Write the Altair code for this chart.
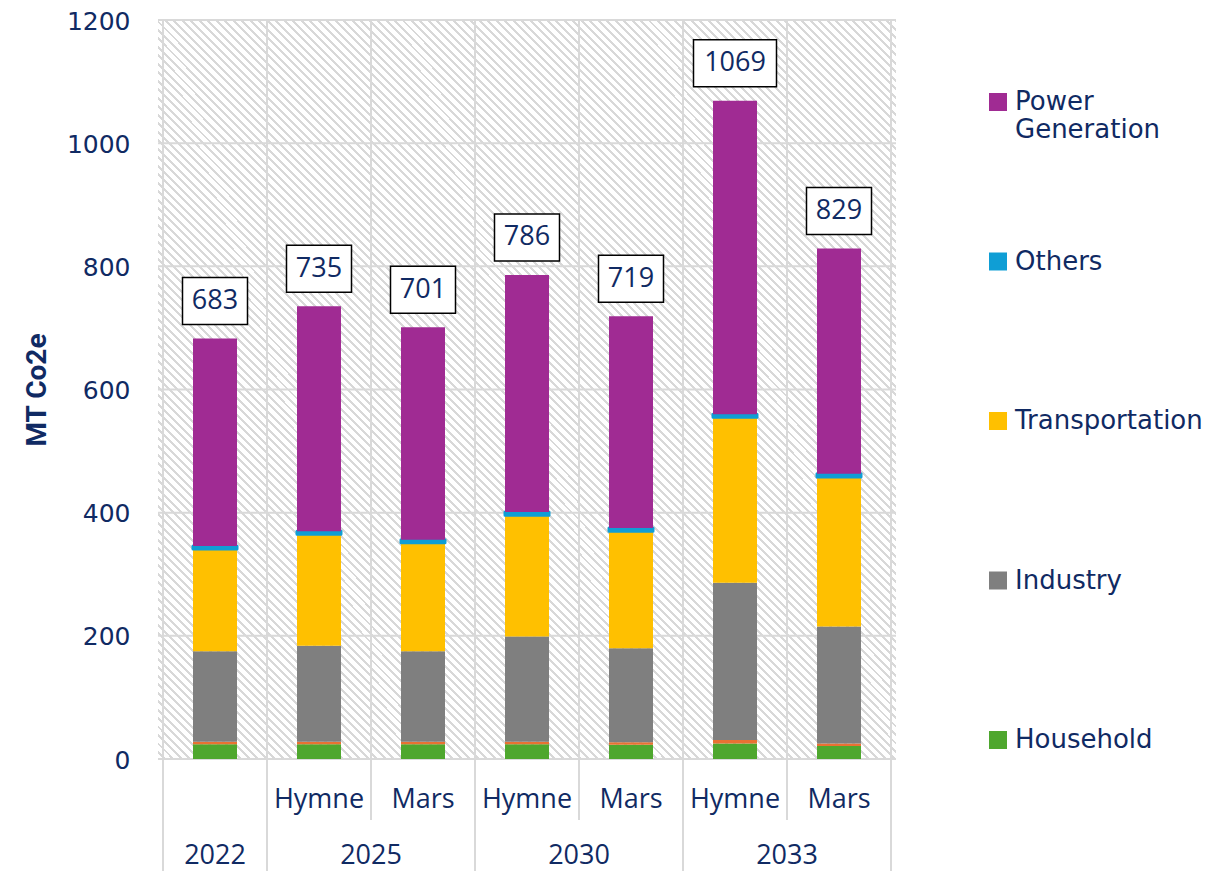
import altair as alt
import pandas as pd

# ---------------- data ----------------
categories = ["2022", "2025 Hymne", "2025 Mars", "2030 Hymne", "2030 Mars", "2033 Hymne", "2033 Mars"]
scenario_labels = ["", "Hymne", "Mars", "Hymne", "Mars", "Hymne", "Mars"]
years = ["2022", "2025", "2030", "2033"]
year_first_bar = [0, 1, 3, 5]
year_bar_count = [1, 2, 2, 2]

household = [24, 24, 24, 24, 23, 25, 21]
waste = [4, 4, 4, 4, 4, 6, 4]
industry = [147, 156, 147, 171, 153, 255, 190]
transportation = [166, 181, 176, 197, 190, 269, 243]
others = [5, 5, 5, 5, 5, 5, 5]
power = [337, 365, 345, 385, 344, 509, 366]
totals = [683, 735, 701, 786, 719, 1069, 829]

y_ticks = [0, 200, 400, 600, 800, 1000, 1200]

series_names = ["Household", "Waste", "Industry", "Transportation", "Others", "Power Generation"]
series_values = [household, waste, industry, transportation, others, power]
series_colors = ["#4EA72E", "#E97132", "#7F7F7F", "#FFC000", "#0F9ED5", "#A02B93"]
legend_values = ["Power Generation", "Others", "Transportation", "Industry", "Household"]

# ---------------- styling ----------------
W, H = 738, 739
NAVY = "#102A63"
GRID = "#d9d9d9"

rows = []
for s_idx, (name, vals) in enumerate(zip(series_names, series_values)):
    for i, cat in enumerate(categories):
        rows.append({"cat": cat, "pos": i + 0.5, "series": name, "value": vals[i], "stack_idx": s_idx})
df = pd.DataFrame(rows)

tot_df = pd.DataFrame({"pos": [i + 0.5 for i in range(len(categories))],
                       "total": totals, "label": [str(t) for t in totals]})
sc_df = pd.DataFrame({"pos": [i + 0.5 for i in range(len(categories))], "label": scenario_labels})
yr_df = pd.DataFrame({"center": [f + c / 2 for f, c in zip(year_first_bar, year_bar_count)], "year": years})
long_bounds = year_first_bar + [len(categories)]
short_bounds = [f + 1 for f, c in zip(year_first_bar, year_bar_count) if c == 2]

xscale = alt.Scale(domain=[0, len(categories)], nice=False, zero=False)
yscale = alt.Scale(domain=[0, 1200], nice=False)

yaxis = alt.Axis(values=y_ticks, format="d", grid=False, ticks=False, domain=False,
                 labelFont="DejaVu Sans", labelFontSize=25, labelColor=NAVY, labelPadding=28,
                 labelOffset=1,
                 title="MT Co2e", titleFont="Roboto", titleFontSize=28,
                 titleFontWeight="bold", titleColor=NAVY, titleX=-121, titleY=H / 2,
                 titleAngle=270, titleAlign="center", titleBaseline="middle")

# hatched background via hard-stop gradient
N = 174
stops = []
for k in range(N):
    a, b, c = k / N, (k + 0.35) / N, (k + 1) / N
    stops += [
        {"offset": a, "color": "#d8d8d8"},
        {"offset": b, "color": "#d8d8d8"},
        {"offset": b, "color": "#ffffff"},
        {"offset": c, "color": "#ffffff"},
    ]
hatch = alt.LinearGradient(gradient="linear", stops=stops, x1=1, y1=0, x2=0, y2=1)

bg = alt.Chart(pd.DataFrame({"k": [0]})).mark_rect(fill=hatch).encode(
    x=alt.value(0), x2=alt.value(W), y=alt.value(0), y2=alt.value(H)
)

hgrid = alt.Chart(pd.DataFrame({"v": y_ticks})).mark_rule(color=GRID, strokeWidth=2).encode(
    y=alt.Y("v:Q", scale=yscale, axis=yaxis), x=alt.value(0), x2=alt.value(W)
)
vlong = alt.Chart(pd.DataFrame({"b": long_bounds})).mark_rule(color=GRID, strokeWidth=2).encode(
    x=alt.X("b:Q", scale=xscale, axis=None), y=alt.value(0), y2=alt.value(H + 120)
)
vshort = alt.Chart(pd.DataFrame({"b": short_bounds})).mark_rule(color=GRID, strokeWidth=2).encode(
    x=alt.X("b:Q", scale=xscale, axis=None), y=alt.value(0), y2=alt.value(H + 61)
)

legend_expr = ("datum.label == 'Power Generation' ? ['Power', 'Generation'] : [datum.label, '']")

bars = alt.Chart(df).mark_bar(size=44, stroke="#0F9ED5", strokeJoin="round").encode(
    x=alt.X("pos:Q", scale=xscale, axis=None),
    y=alt.Y("value:Q", scale=yscale, stack="zero", axis=yaxis),
    color=alt.Color("series:N", scale=alt.Scale(domain=series_names, range=series_colors),
                    legend=alt.Legend(title=None, orient="none", legendX=827, legendY=69,
                                      values=legend_values, symbolType="square", symbolSize=324,
                                      symbolStrokeWidth=0, labelFont="DejaVu Sans", labelFontSize=26,
                                      labelColor=NAVY, labelOffset=4, rowPadding=105.5, labelLimit=400,
                                      padding=0, labelExpr=legend_expr)),
    order=alt.Order("stack_idx:Q", sort="ascending"),
    strokeWidth=alt.condition(alt.datum.series == "Others", alt.value(3), alt.value(0)),
)

path3 = "M-1.383,-1H1.383V1H-1.383Z"
path4 = "M-1.766,-1H1.766V1H-1.766Z"
boxes = alt.Chart(tot_df).mark_point(filled=True, fill="white", stroke="black", strokeWidth=1.5,
                                     size=2209, opacity=1, yOffset=-37.5).encode(
    x=alt.X("pos:Q", scale=xscale, axis=None),
    y=alt.Y("total:Q", scale=yscale, axis=yaxis),
    shape=alt.condition(alt.datum.total >= 1000, alt.value(path4), alt.value(path3)),
)
box_text = alt.Chart(tot_df).mark_text(dy=-37.5, fontSize=27, font="Open Sans", color=NAVY,
                                       baseline="middle").encode(
    x=alt.X("pos:Q", scale=xscale, axis=None),
    y=alt.Y("total:Q", scale=yscale, axis=yaxis),
    text="label:N",
)

sc_text = alt.Chart(sc_df).mark_text(fontSize=27, font="Open Sans", color=NAVY, baseline="middle").encode(
    x=alt.X("pos:Q", scale=xscale, axis=None), y=alt.value(H + 41), text="label:N"
)
yr_text = alt.Chart(yr_df).mark_text(fontSize=27, font="Open Sans", color=NAVY, baseline="middle").encode(
    x=alt.X("center:Q", scale=xscale, axis=None), y=alt.value(H + 97), text="year:N"
)

chart = alt.layer(bg, hgrid, vlong, vshort, bars, boxes, box_text, sc_text, yr_text).properties(
    width=W, height=H,
    autosize=alt.AutoSizeParams(type="none"),
    padding={"left": 150, "top": 12, "right": 318, "bottom": 112},
).configure_view(strokeWidth=0)

chart.save("out.html", embed_options={"renderer": "svg", "actions": False})
